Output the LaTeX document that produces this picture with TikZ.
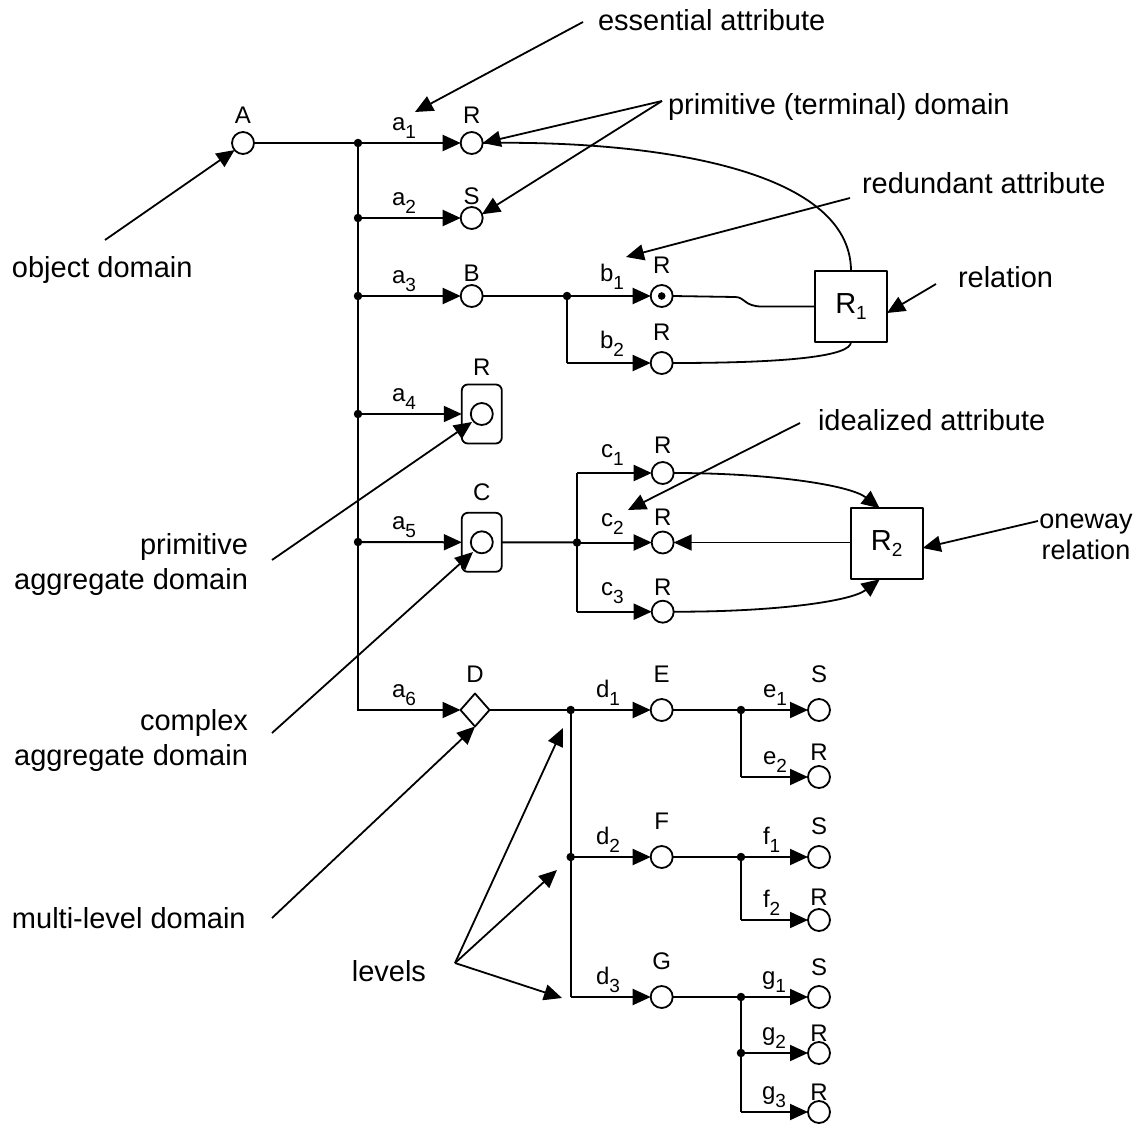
\documentclass[tikz,border=0pt]{standalone}
\usepackage{fontspec}
\setmainfont{Liberation Sans}
\usetikzlibrary{arrows.meta,shapes.geometric}

% lowered subscript used in attribute and relation names
\newcommand\lowsub[1]{\raisebox{-8pt}{\fontsize{19}{19}\selectfont #1}}

\begin{document}
\begin{tikzpicture}[x=1pt,y=-1pt,line join=round,
  every node/.style={inner sep=0pt,outer sep=0pt},
  big/.style={font=\fontsize{29}{35}\selectfont},
  lbl/.style={font=\fontsize{24}{28}\selectfont},
  dom/.style={circle,draw,line width=1.8pt,minimum size=22pt,fill=white},
  agg/.style={rectangle,rounded corners=6pt,draw,line width=1.8pt,minimum width=40pt,minimum height=59pt},
  multi/.style={diamond,draw,line width=1.8pt,minimum width=29pt,minimum height=33pt},
  rel/.style={rectangle,draw,line width=1.8pt,minimum width=72pt,minimum height=71pt,font=\fontsize{29}{35}\selectfont},
  bus/.style={line width=2.8pt},
  conn/.style={line width=2pt},
  arr/.style={conn,-{Triangle[length=18pt,width=16pt]}},
  ptr/.style={line width=1.8pt,-{Triangle[length=18pt,width=16pt]}},
  jdot/.style={circle,fill,minimum size=8.5pt},
]
\useasboundingbox (0,0) rectangle (1133,1124);

% ---------- object domain A and its attribute bus ----------
\node[dom] (A) at (243,143) {};
\node[lbl,anchor=base] (lA) at (243,123) {A};

\coordinate (j1) at (358,143);
\coordinate (j2) at (358,218);
\coordinate (j3) at (358,296);
\coordinate (j4) at (358,414);
\coordinate (j5) at (358,542);
\coordinate (j6) at (358,710);
\draw[bus] (A.east) -- (j1);
\draw[bus] (j1) -- (j6);

% first-level domains
\node[dom] (Ra1) at (471.7,143) {};
\node[lbl,anchor=base] (lRa1) at (471.7,123) {R};
\node[dom] (Sa2) at (471.7,218) {};
\node[lbl,anchor=base] (lSa2) at (471.7,204) {S};
\node[dom] (B) at (471.7,296) {};
\node[lbl,anchor=base] (lB) at (471.7,281) {B};
\node[agg] (P4) at (481.8,414) {};
\node[dom] (a4c) at (481.8,414) {};
\node[lbl,anchor=base] (lP4) at (481.8,375) {R};
\node[agg] (C5) at (481.8,542.3) {};
\node[dom] (a5c) at (481.8,542.3) {};
\node[lbl,anchor=base] (lC5) at (481.8,500) {C};
\node[multi] (D) at (475,710) {};
\node[lbl,anchor=base] (lD) at (475,682) {D};

\draw[arr] (j1) -- (Ra1.west);
\draw[arr] (j2) -- (Sa2.west);
\draw[arr] (j3) -- (B.west);
\draw[arr] (j4) -- (P4.west);
\draw[arr] (j5) -- (C5.west);
\draw[arr] ([xshift=-1.4pt]j6) -- (D.west);
\foreach \j in {j1,j2,j3,j4,j5} \node[jdot] at (\j) {};

\node[lbl,anchor=base west] (la1) at (392,130) {a\lowsub{1}};
\node[lbl,anchor=base west] (la2) at (392,205) {a\lowsub{2}};
\node[lbl,anchor=base west] (la3) at (392,283) {a\lowsub{3}};
\node[lbl,anchor=base west] (la4) at (392,401) {a\lowsub{4}};
\node[lbl,anchor=base west] (la5) at (392,529) {a\lowsub{5}};
\node[lbl,anchor=base west] (la6) at (392,697) {a\lowsub{6}};

% ---------- B: b1 (redundant) and b2 ----------
\coordinate (jb) at (567,296);
\coordinate (jb2) at (567,363);
\draw[conn] (B.east) -- (jb);
\draw[conn] (jb) -- (jb2);
\node[dom] (b1) at (661.7,296) {};
\fill (b1.center) circle (3.8pt);
\node[dom] (b2) at (661.7,363) {};
\draw[arr] (jb) -- (b1.west);
\draw[arr] (jb2) -- (b2.west);
\node[jdot] at (jb) {};
\node[lbl,anchor=base west] (lb1) at (600,281) {b\lowsub{1}};
\node[lbl,anchor=base west] (lb2) at (600,348) {b\lowsub{2}};
\node[lbl,anchor=base] (lRb1) at (661.7,273) {R};
\node[lbl,anchor=base] (lRb2) at (661.7,340) {R};

% relation R1
\node[rel] (R1) at (851,306.5) {R\raisebox{-6pt}{\fontsize{19}{19}\selectfont 1}};
\draw[line width=1.8pt] (b1.east) -- (735,297) .. controls (745,297) and (744,306.5) .. (762,306.5) -- (R1.west);
\draw[line width=1.8pt] (b2.east) .. controls (790,363) and (851,356) .. (R1.south);
\draw[line width=1.8pt] (R1.north) .. controls (851,168) and (650,140) .. (Ra1.east);

% ---------- C: c1, c2 (idealized), c3 ----------
\coordinate (jc) at (577,542.5);
\coordinate (jc1) at (577,473);
\coordinate (jc3) at (577,611.7);
\draw[conn] (C5.east) -- (jc);
\draw[conn] (jc1) -- (jc3);
\node[dom] (c1) at (662.7,473) {};
\node[dom] (c2) at (662.7,542.5) {};
\node[dom] (c3) at (662.7,611.7) {};
\draw[arr] (jc1) -- (c1.west);
\draw[arr] (jc) -- (c2.west);
\draw[arr] (jc3) -- (c3.west);
\node[jdot] at (jc) {};
\node[lbl,anchor=base west] (lc1) at (601,457) {c\lowsub{1}};
\node[lbl,anchor=base west] (lc2) at (601,526) {c\lowsub{2}};
\node[lbl,anchor=base west] (lc3) at (601,595) {c\lowsub{3}};
\node[lbl,anchor=base] (lRc1) at (662.7,453) {R};
\node[lbl,anchor=base] (lRc2) at (662.7,525) {R};
\node[lbl,anchor=base] (lRc3) at (662.7,595) {R};

% oneway relation R2
\node[rel] (R2) at (886.7,543.8) {R\raisebox{-6pt}{\fontsize{19}{19}\selectfont 2}};
\coordinate (r2t) at ([xshift=-7pt]R2.north);
\coordinate (r2b) at ([xshift=-7pt]R2.south);
\draw[arr,line width=1.8pt] (R2.west |- c2.east) -- (c2.east);
\draw[arr,line width=1.8pt] (c1.east) .. controls (770,473) and (850,485) .. (r2t);
\draw[arr,line width=1.8pt] (c3.east) .. controls (770,612) and (850,602) .. (r2b);

% ---------- D: multi-level domain ----------
\coordinate (jd) at (570.7,710);
\coordinate (jd2) at (570.7,857);
\coordinate (jd3) at (570.7,997);
\draw[conn] (D.east) -- (jd);
\draw[conn] (jd) -- (jd3);
\node[dom] (E) at (661.7,710) {};
\node[dom] (F) at (661.7,857) {};
\node[dom] (G) at (661.7,997) {};
\draw[arr] (jd) -- (E.west);
\draw[arr] (jd2) -- (F.west);
\draw[arr] (jd3) -- (G.west);
\node[jdot] at (jd) {};
\node[jdot] at (jd2) {};
\node[lbl,anchor=base west] (ld1) at (596,697) {d\lowsub{1}};
\node[lbl,anchor=base west] (ld2) at (596,844) {d\lowsub{2}};
\node[lbl,anchor=base west] (ld3) at (596,984) {d\lowsub{3}};
\node[lbl,anchor=base] (lE) at (661.7,682) {E};
\node[lbl,anchor=base] (lF) at (661.7,829) {F};
\node[lbl,anchor=base] (lG) at (661.7,969) {G};

% E branch
\coordinate (je) at (741,710);
\coordinate (je2) at (741,777);
\draw[conn] (E.east) -- (je) -- (je2);
\node[dom] (e1) at (819,710) {};
\node[dom] (e2) at (819,777) {};
\draw[arr] (je) -- (e1.west);
\draw[arr] (je2) -- (e2.west);
\node[jdot] at (je) {};
\node[lbl,anchor=base west] (le1) at (763,697) {e\lowsub{1}};
\node[lbl,anchor=base west] (le2) at (763,764) {e\lowsub{2}};
\node[lbl,anchor=base] (lSe1) at (819,682) {S};
\node[lbl,anchor=base] (lRe2) at (819,760) {R};

% F branch
\coordinate (jf) at (741,857);
\coordinate (jf2) at (741,920);
\draw[conn] (F.east) -- (jf) -- (jf2);
\node[dom] (f1) at (819,857) {};
\node[dom] (f2) at (819,920) {};
\draw[arr] (jf) -- (f1.west);
\draw[arr] (jf2) -- (f2.west);
\node[jdot] at (jf) {};
\node[lbl,anchor=base west] (lf1) at (763,844) {f\lowsub{1}};
\node[lbl,anchor=base west] (lf2) at (763,907) {f\lowsub{2}};
\node[lbl,anchor=base] (lSf1) at (819,834) {S};
\node[lbl,anchor=base] (lRf2) at (819,905) {R};

% G branch
\coordinate (jg) at (741,997);
\coordinate (jg2) at (741,1053);
\coordinate (jg3) at (741,1112);
\draw[conn] (G.east) -- (jg) -- (jg3);
\node[dom] (g1) at (819,997) {};
\node[dom] (g2) at (819,1053) {};
\node[dom] (g3) at (819,1112) {};
\draw[arr] (jg) -- (g1.west);
\draw[arr] (jg2) -- (g2.west);
\draw[arr] (jg3) -- (g3.west);
\node[jdot] at (jg) {};
\node[jdot] at (jg2) {};
\node[lbl,anchor=base west] (lg1) at (762,984) {g\lowsub{1}};
\node[lbl,anchor=base west] (lg2) at (762,1040) {g\lowsub{2}};
\node[lbl,anchor=base west] (lg3) at (762,1099) {g\lowsub{3}};
\node[lbl,anchor=base] (lSg1) at (819,975) {S};
\node[lbl,anchor=base] (lRg2) at (819,1041) {R};
\node[lbl,anchor=base] (lRg3) at (819,1100) {R};

% ---------- annotations ----------
\node[big,anchor=west] (tEss) at (598,20) {essential attribute};
\coordinate (pEss) at (583,22);
\draw[ptr] (pEss) -- (415,112);

\node[big,anchor=west] (tPrim) at (668,107) {primitive (terminal) domain};
\coordinate (pPrim) at (662,101);
\draw[ptr] (pPrim) -- (Ra1.east);
\draw[ptr] (pPrim) -- (Sa2.20);

\node[big,anchor=west] (tRed) at (862,183) {redundant attribute};
\coordinate (pRed) at (850,198);
\draw[ptr] (pRed) -- (626,257);

\node[big,anchor=west] (tRel) at (958,277) {relation};
\coordinate (pRel) at (936,284);
\draw[ptr] (pRel) -- (R1.east |- 0,313);

\node[big,anchor=west] (tIdeal) at (818,420) {idealized attribute};
\coordinate (pIdeal) at (800,423);
\draw[ptr] (pIdeal) -- (628,510);

\node[align=center,font=\fontsize{27}{31}\selectfont] (tOne) at (1086,537) {oneway\\relation};
\coordinate (pOne) at (1038,521);
\draw[ptr] (pOne) -- (R2.east |- 0,548);

\node[big,anchor=west] (tObj) at (12,270) {object domain};
\coordinate (pObj) at (105,240);
\draw[ptr] (pObj) -- (A.220);

\node[big,anchor=east,align=right] (tPAgg) at (248,564) {primitive\\aggregate domain};
\coordinate (pPAgg) at (272,560);
\draw[ptr] (pPAgg) -- (472,422);

\node[big,anchor=east,align=right] (tCAgg) at (248,740) {complex\\aggregate domain};
\coordinate (pCAgg) at (272,733);
\draw[ptr] (pCAgg) -- (473,552);

\node[big,anchor=west] (tMulti) at (12,918) {multi-level domain};
\coordinate (pMulti) at (272,918);
\draw[ptr] (pMulti) -- (D.south);

\node[big,anchor=east] (tLev) at (426,971) {levels};
\coordinate (pLev) at (455,963);
\draw[ptr] (pLev) -- (563,728);
\draw[ptr] (pLev) -- (557,870);
\draw[ptr] (pLev) -- (562,998);
\end{tikzpicture}
\end{document}
